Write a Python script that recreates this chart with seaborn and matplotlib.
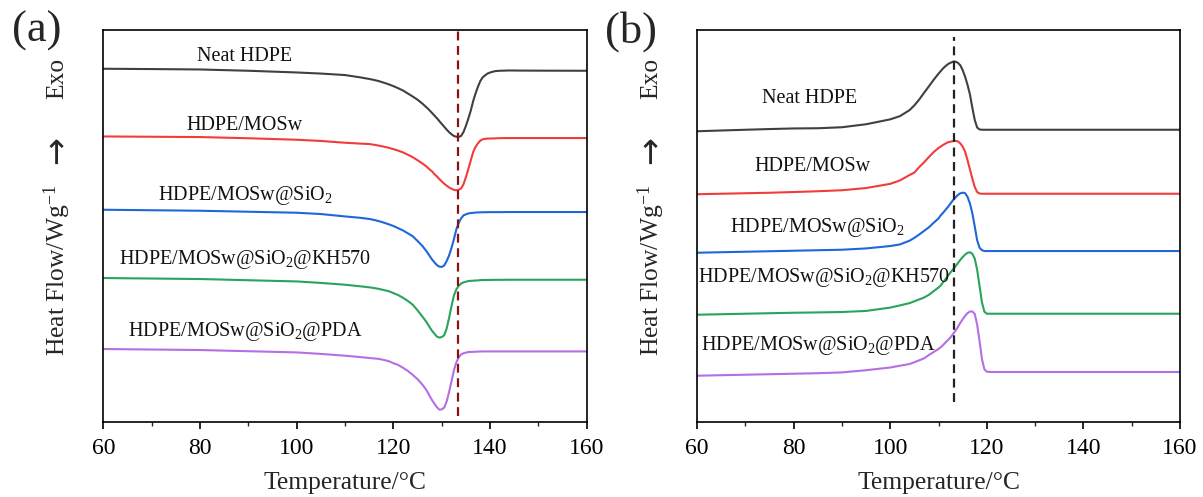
import matplotlib
matplotlib.use("Agg")
import matplotlib.pyplot as plt
import seaborn as sns
from matplotlib.ticker import MultipleLocator

# ---- data (heat flow in arbitrary, stacked units) ----
# (a) heating scans
temp_a = [60, 70, 80, 90, 100, 105, 110, 113,
          115, 116, 117, 118, 119, 120, 121, 122, 123, 124, 125,
          126, 126.5, 127, 127.5, 128, 128.5, 129, 129.5, 130, 130.5,
          131, 131.5, 132, 132.5, 133, 133.5, 134, 134.5, 135, 135.5,
          136, 136.5, 137, 137.5, 138, 138.5, 139, 139.5, 140,
          141, 142, 144, 146, 150, 160]

neat_a = [353, 352.7, 352.3, 351, 349.3, 348.2, 346.7, 344.5,
          342.8, 341.8, 340.6, 339.1, 337.5, 335.6, 333.5, 331.2, 328.2, 325.2, 322,
          318.1, 315.9, 313.7, 311.3, 308.7, 306.1, 303.5, 300.6, 297.8, 295,
          292.2, 289.7, 287.5, 285.8, 285, 284.9, 285.8, 289.8, 296, 303.3,
          311.2, 320.8, 328.5, 335.3, 341, 344.6, 346.6, 348.3, 349.3,
          350.6, 351, 351.3, 351.2, 351.1, 351]
mosw_a = [285.3, 285, 284.7, 283.5, 282, 280.8, 279, 278.2,
          277.7, 277, 276.1, 275.1, 274, 272.6, 271.1, 269.3, 267, 264.5, 261.5,
          258.2, 256.5, 254.5, 252.3, 250.3, 247.5, 245.3, 242.7, 240.3, 238,
          236.1, 234.3, 233, 231.9, 231.5, 231.9, 233.3, 237.6, 244.7, 252.8,
          261.4, 269.8, 275, 278.6, 281.2, 282.5, 282.9, 283.2, 283.2,
          283.4, 283.6, 283.7, 283.7, 283.7, 283.7]
sio2_a = [212, 211.5, 211, 210, 209, 207.7, 205.3, 204,
          202.8, 201.8, 200.6, 199.1, 197.5, 195.7, 193.5, 191.2, 188.4, 185.4, 180.7,
          175.7, 172.6, 169.4, 165.7, 162.2, 159.3, 156.6, 155.1, 154.8, 156.3,
          160.6, 166.1, 173.6, 182.4, 192.1, 198.8, 203.4, 206.4, 207.4, 208.3,
          208.7, 208.9, 209.2, 209.3, 209.4, 209.5, 209.5, 209.6, 209.6,
          209.6, 209.6, 209.7, 209.7, 209.7, 209.7]
kh570_a = [143.7, 143.2, 142.7, 141.5, 140.3, 138.8, 137, 135.5,
           134.4, 133.7, 132.8, 131.7, 130.6, 128.6, 126.6, 123.9, 120.7, 117, 111.3,
           105.1, 101.9, 98.5, 94.5, 90.8, 87.9, 85.1, 84.1, 84.7, 86.4,
           93.1, 103.5, 115.3, 126.1, 132.2, 135.9, 138.2, 139.3, 140, 140.7,
           140.9, 141, 141.3, 141.3, 141.6, 141.7, 141.7, 141.7, 141.8,
           141.9, 141.9, 142, 142, 142, 142]
pda_a = [72.7, 72.2, 71.7, 70.5, 69.3, 67.8, 66, 64.7,
         63.7, 63.3, 62.8, 61.8, 60.6, 58.5, 56.7, 53.9, 50.7, 46.8, 42.5,
         37, 33.8, 30.2, 25.7, 21.4, 17.9, 14.5, 12, 12.3, 14.1,
         20.1, 29.4, 40.3, 51.1, 59.2, 64.3, 67.3, 68.5, 69.1, 69.7,
         69.8, 69.9, 70, 70.1, 70.2, 70.3, 70.3, 70.3, 70.3,
         70.3, 70.3, 70.3, 70.3, 70.3, 70.3]

# (b) cooling scans
temp_b = [60, 70, 75, 80, 85, 90, 95, 100, 102, 104, 105, 106, 107, 108, 109,
          110, 110.5, 111, 111.5, 112, 112.5, 113, 113.5, 114, 114.5,
          115, 115.5, 116, 116.5, 117, 117.5, 118, 118.5, 119, 119.5, 120,
          121, 125, 130, 140, 150, 160]

neat_b = [290.5, 292, 292.7, 293.3, 293.5, 294.5, 297.5, 302.4, 305.6, 311.6, 316.4, 322.2, 328.9, 335.4, 342,
          348.1, 350.9, 353.7, 355.8, 357.8, 359, 360.1, 360.1, 359, 356.5,
          351.7, 345.1, 337, 327.4, 314.1, 301.8, 294.2, 292.3, 292, 292, 292,
          292, 292, 292, 292, 292, 292]
mosw_b = [227.5, 228.5, 229, 229.7, 230.5, 231.5, 233.7, 237.9, 241.3, 246.7, 249.2, 254.6, 259.4, 264.7, 269.7,
          273.8, 275.4, 277, 278.3, 279.6, 280.1, 280.6, 280.9, 280.4, 278.4,
          275.1, 270.1, 261.7, 252.5, 243.1, 234.7, 229.7, 228.2, 228, 228, 228,
          228, 228, 228, 228, 228, 228]
sio2_b = [169, 170, 170.5, 171, 171.5, 172, 173.3, 175.7, 177.3, 181, 183.9, 187.2, 190.8, 194.4, 199,
          203.3, 206.7, 209.3, 212.2, 215.1, 218.3, 221.5, 224.2, 226.7, 228.4,
          229.1, 228.6, 225, 218.3, 208.6, 195.3, 181.4, 174, 171.5, 170.7, 170.7,
          170.7, 170.7, 170.7, 170.7, 170.7, 170.7]
kh570_b = [107, 108, 108.5, 109, 109.3, 109.7, 110.8, 114.1, 116.3, 118.6, 120.4, 122.3, 124.2, 126.9, 130.6,
           134.2, 136.5, 139.8, 143, 146.3, 149.4, 152.4, 155.4, 158.5, 161.8,
           164.7, 167.1, 168.9, 169.5, 167.9, 163.1, 152, 135.6, 119.1, 110, 108,
           108, 108, 108, 108, 108, 108]
pda_b = [46, 47, 47.5, 48, 48.5, 49.3, 51.5, 54.2, 56, 57.7, 59.5, 61.4, 63.4, 66.7, 69.7,
         72.8, 74.6, 77, 79.5, 81.9, 84.5, 87.7, 91, 94.7, 98.8,
         102.4, 105.8, 108.6, 110.2, 110.3, 107.8, 97, 80.5, 62.4, 52.4, 50,
         49.7, 49.7, 49.7, 49.7, 49.7, 49.7]

names = ["Neat HDPE", "HDPE/MOSw", "HDPE/MOSw@SiO$_2$",
         "HDPE/MOSw@SiO$_2$@KH570", "HDPE/MOSw@SiO$_2$@PDA"]
colors = ["#404040", "#f23c3c", "#1f66d8", "#2aa35c", "#b46fe4"]

peak_a = 133.4   # melting peak of neat HDPE
peak_b = 113.3   # crystallisation peak of neat HDPE

# ---- style ----
sns.set_theme(style="ticks")
plt.rcParams["font.family"] = ["Liberation Serif", "DejaVu Serif"]
plt.rcParams["mathtext.fontset"] = "custom"
plt.rcParams["mathtext.rm"] = "Liberation Serif"
plt.rcParams["mathtext.it"] = "Liberation Serif:italic"

fig = plt.figure(figsize=(12.03, 4.97), dpi=100)
ax_a = fig.add_axes([0.0859, 0.1515, 0.4019, 0.788])
ax_b = fig.add_axes([0.5794, 0.1515, 0.4015, 0.788])


def draw_panel(ax, temps, curves, label_xy, peak, dash_color, dash_span):
    for vals, color in zip(curves, colors):
        sns.lineplot(x=temps, y=vals, ax=ax, color=color, linewidth=1.5,
                     estimator=None, sort=False)
    for name, (tx, ty) in zip(names, label_xy):
        ax.text(tx, ty, name, ha="center", va="baseline", fontsize=14.5, color="#111111")
    ax.axvline(peak, ymin=dash_span[0], ymax=dash_span[1], color=dash_color,
               linewidth=1.6, dashes=(4, 2.5))

    ax.set_xlim(60, 160)
    ax.set_ylim(0, 391.7)
    ax.xaxis.set_major_locator(MultipleLocator(20))
    ax.xaxis.set_minor_locator(MultipleLocator(10))
    ax.set_yticks([])
    ax.tick_params(axis="x", which="major", direction="out", length=5, width=1.2,
                   labelsize=17, pad=7, colors="black")
    ax.tick_params(axis="x", which="minor", direction="out", length=3, width=1.0)
    for sp in ax.spines.values():
        sp.set_color("black")
        sp.set_linewidth(1.2)
    ax.set_xlabel("Temperature/°C", fontsize=18.4, labelpad=9)

    # y label in three pieces: "Heat Flow/Wg-1", arrow, "Exo"
    lx = -0.095
    ax.text(lx, 0.387, "Heat Flow/Wg$^{-1}$", transform=ax.transAxes, rotation=90,
            ha="center", va="center", fontsize=18.4)
    ax.text(lx, 0.694, "→", transform=ax.transAxes, rotation=90,
            ha="center", va="center", fontsize=24, family="DejaVu Sans")
    ax.text(lx, 0.877, "Exo", transform=ax.transAxes, rotation=90,
            ha="center", va="center", fontsize=18.4)


draw_panel(ax_a, temp_a, [neat_a, mosw_a, sio2_a, kh570_a, pda_a],
           [(89.3, 360.3), (89.3, 292), (89.3, 222), (89.3, 157.5), (89.3, 86)],
           peak_a, "#8b1010", (0.015, 1.0))
draw_panel(ax_b, temp_b, [neat_b, mosw_b, sio2_b, kh570_b, pda_b],
           [(83.4, 318.6), (84.0, 250.3), (84.9, 189.3), (86.2, 139.3), (85.1, 72)],
           peak_b, "#222222", (0.05, 0.982))

fig.text(0.010, 0.978, "(a)", fontsize=32, va="top", ha="left")
fig.text(0.503, 0.978, "(b)", fontsize=32, va="top", ha="left")

fig.savefig("out.png", dpi=100)
plt.close(fig)
